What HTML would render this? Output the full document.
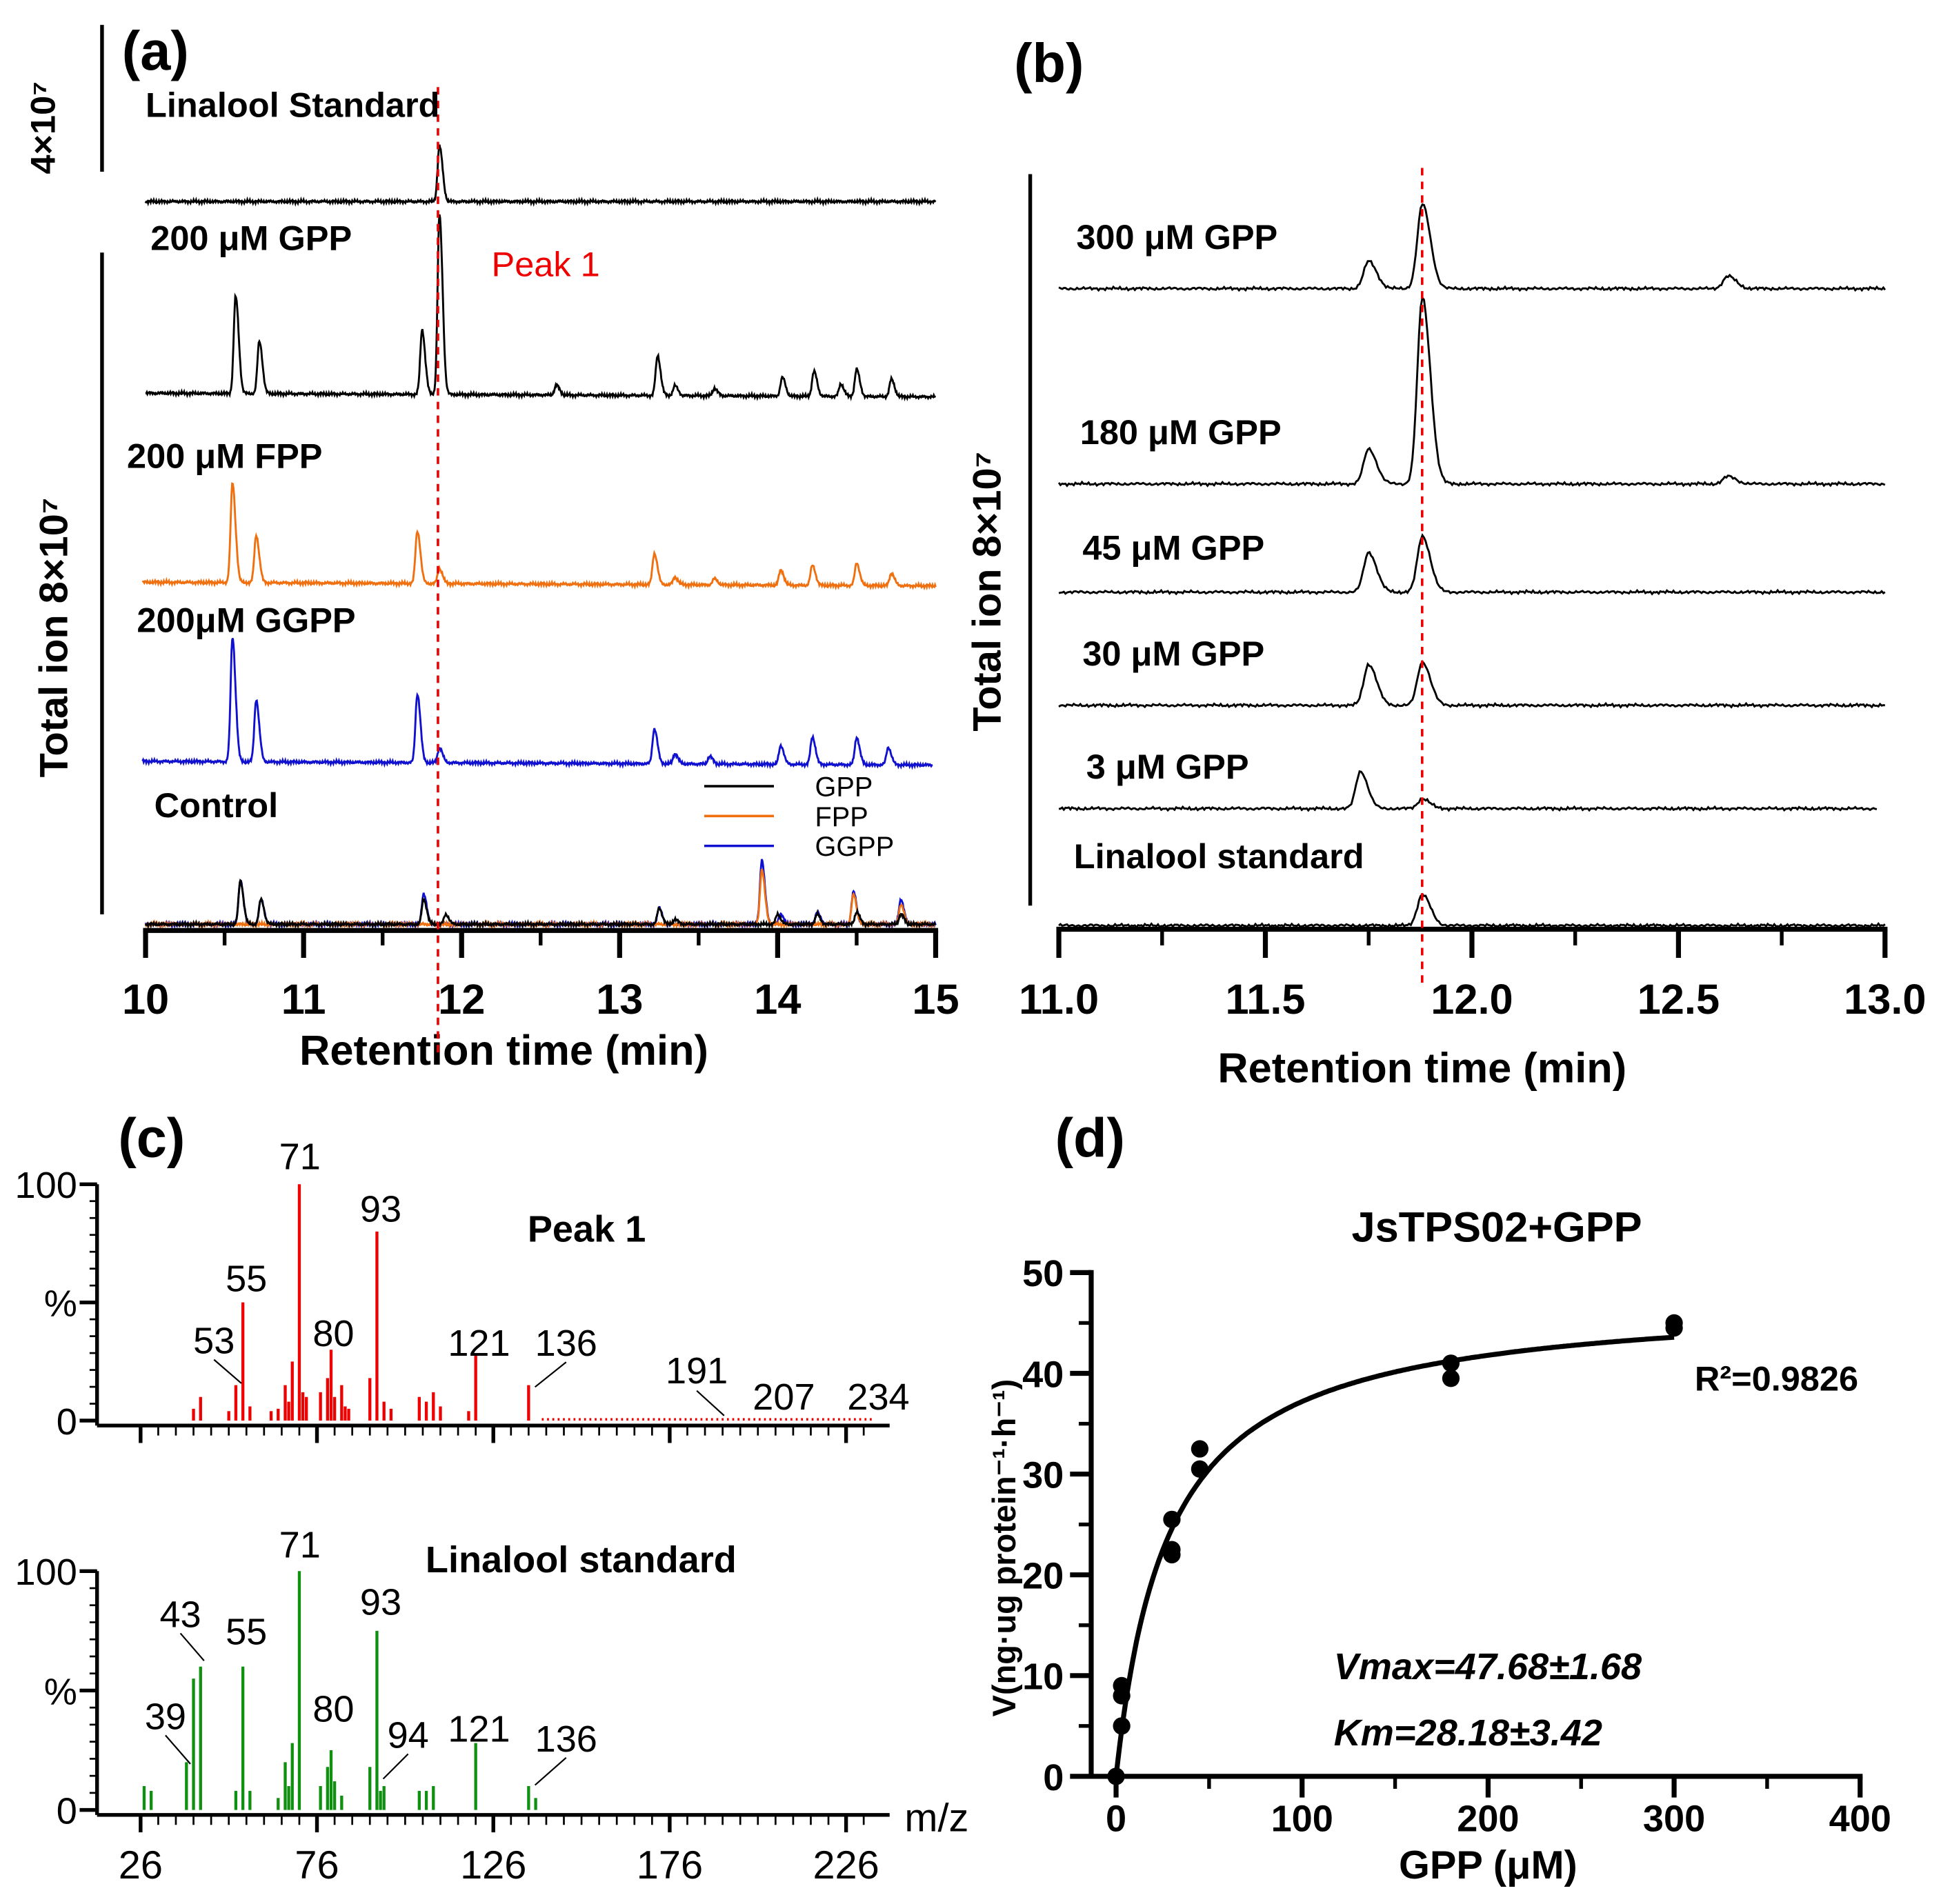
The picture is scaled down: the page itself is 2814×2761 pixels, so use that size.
<!DOCTYPE html>
<html><head><meta charset="utf-8"><style>
html,body{margin:0;padding:0;background:#fff}
svg{display:block}
text{font-family:"Liberation Sans",Arial,sans-serif}
.b{font-weight:bold}
</style></head><body>
<svg id="fig" width="2814" height="2761" viewBox="0 0 1560 1530.6" xmlns="http://www.w3.org/2000/svg">
<g id="gA"></g>
<g id="gB"></g>
<g id="gC"></g>
<g id="gD"></g>
</svg>
<script>
// ---------- Panel A data ----------
const aTicks=[10,11,12,13,14,15];
const aStdRt=[11.86], aStdH=[45];
const aGppRt=[10.57,10.72,11.75,11.86,12.6,13.24,13.35,13.6,14.03,14.23,14.4,14.5,14.72];
const aGppH=[78,42,52,145,8,32,8,6,15,20,10,22,14];
const aFppRt=[10.55,10.7,11.72,11.86,13.22,13.35,13.6,14.02,14.22,14.5,14.72];
const aFppH=[80,38,42,12,25,6,5,12,16,18,10];
const aGgppRt=[10.55,10.7,11.72,11.86,13.22,13.35,13.57,14.02,14.22,14.5,14.7];
const aGgppH=[100,50,55,12,28,8,6,15,22,22,14];
const aCtlRt=[10.6,10.73,11.76,11.9,13.25,13.35,14.0,14.25,14.5,14.78];
const aCtlH=[35,20,20,8,13,4,8,8,10,8];
const aCtlGgRt=[10.6,10.73,11.76,13.25,13.9,14.02,14.25,14.48,14.78];
const aCtlGgH=[35,20,24,13,52,8,10,26,20];
const aCtlFpRt=[13.9,14.48,14.78];
const aCtlFpH=[44,24,16];
// ---------- Panel B data ----------
const bTicks=[11.0,11.5,12.0,12.5,13.0];
const b300Rt=[11.75,11.88,12.62], b300H=[22,68,10];
const b180Rt=[11.75,11.88,12.62], b180H=[28,150,6];
const b45Rt=[11.75,11.88], b45H=[32,45];
const b30Rt=[11.75,11.88], b30H=[33,35];
const b3Rt=[11.73,11.88], b3H=[30,8];
const bStdRt=[11.88], bStdH=[25];
// ---------- Panel C data ----------
const cTicks=[26,76,126,176,226];
const cPeakMz=[41,43,51,53,55,57,63,65,67,68,69,71,72,73,77,79,80,81,83,84,85,91,93,95,97,105,107,109,111,119,121,136];
const cPeakI=[5,10,4,15,50,6,4,5,15,8,25,100,12,10,12,18,30,10,15,6,5,18,80,8,5,10,8,12,6,4,28,15];
const cStdMz=[27,29,39,41,43,53,55,57,65,67,68,69,71,77,79,80,81,83,91,93,94,95,105,107,109,121,136,138];
const cStdI=[10,8,20,55,60,8,60,8,5,20,10,28,100,10,18,25,12,6,18,75,8,10,8,8,10,28,10,5];
// ---------- Panel D data ----------
const dXTicks=[0,100,200,300,400];
const dYTicks=[0,10,20,30,40,50];
const dS=[0,3,3,3,30,30,30,45,45,180,180,300,300];
const dV=[0,5,8,9,22,22.5,25.5,30.5,32.5,39.5,41,44.5,45];
const dVmax=47.68, dKm=28.18;

const NS='http://www.w3.org/2000/svg';
function el(parent,tag,attrs,txt){const e=document.createElementNS(NS,tag);for(const k in attrs)e.setAttribute(k,attrs[k]);if(txt!==undefined)e.textContent=txt;parent.appendChild(e);return e;}
function noise(i,seed){return Math.sin(i*1.7+seed)*0.6+Math.sin(i*3.1+seed*2)*0.5+Math.sin(i*0.37+seed)*0.4;}
function trace(g,sx,x0,x1,base,rts,hs,w,color,seed,name,tilt){
  let d='';let i=0;
  for(let t=x0;t<=x1;t+=0.004){let y=base+noise(i,seed)+(tilt||0)*(t-x0)/(x1-x0);
    for(let k=0;k<rts.length;k++){const dt=t-rts[k];const ww=dt>0?w*1.6:w;y-=hs[k]*Math.exp(-dt*dt/(2*ww*ww));}
    d+=(i?'L':'M')+sx(t).toFixed(1)+','+y.toFixed(1);i++;}
  const p=el(g,'path',{d:d,fill:'none',stroke:color,'stroke-width':1.6});
  
  
  return p;
}
// ===== Panel A =====
const gA=document.getElementById('gA');
const ax=t=>117+(t-10)*127;
trace(gA,ax,10,15,162,aStdRt,aStdH,0.012,'#000',1,'trace-linalool-standard',0);
trace(gA,ax,10,15,316,aGppRt,aGppH,0.012,'#000',2,'trace-gpp',3);
trace(gA,ax,9.98,15,468,aFppRt,aFppH,0.012,'#f07010',3,'trace-fpp',3);
trace(gA,ax,9.98,14.98,612,aGgppRt,aGgppH,0.012,'#1010d0',4,'trace-ggpp',3);
trace(gA,ax,10,15,743,aCtlGgRt,aCtlGgH,0.012,'#1010d0',5,'trace-control-ggpp',0);
trace(gA,ax,10,15,743,aCtlFpRt,aCtlFpH,0.012,'#f07010',6,'trace-control-fpp',0);
trace(gA,ax,10,15,743,aCtlRt,aCtlH,0.012,'#000',7,'trace-control-gpp',0);
el(gA,'line',{x1:115,y1:748,x2:754,y2:748,stroke:'#000','stroke-width':4,});
aTicks.forEach(t=>{el(gA,'line',{x1:ax(t),y1:748,x2:ax(t),y2:770,stroke:'#000','stroke-width':4});
  const tx=el(gA,'text',{x:ax(t),y:815,'text-anchor':'middle','font-size':34,class:'b'},t);
  });
for(let t=10.5;t<15;t+=1)el(gA,'line',{x1:ax(t),y1:748,x2:ax(t),y2:760,stroke:'#000','stroke-width':3});
el(gA,'text',{x:405,y:856,'text-anchor':'middle','font-size':34,class:'b',},'Retention time (min)');
el(gA,'line',{x1:352,y1:70,x2:352,y2:850,stroke:'#e00','stroke-width':2,'stroke-dasharray':'6,5',});
el(gA,'line',{x1:82,y1:20,x2:82,y2:138,stroke:'#000','stroke-width':3,});
el(gA,'line',{x1:82,y1:203,x2:82,y2:735,stroke:'#000','stroke-width':3,});
el(gA,'text',{x:0,y:0,transform:'translate(44,140) rotate(-90)','font-size':28,class:'b',},'4×10⁷');
el(gA,'text',{x:0,y:0,transform:'translate(54,625) rotate(-90)','font-size':32,class:'b',},'Total ion 8×10⁷');
el(gA,'text',{x:98,y:56,'font-size':44,class:'b',},'(a)');
[['Linalool Standard',117,94],['200 μM GPP',121,201],['200 μM FPP',102,376],['200μM GGPP',110,508],['Control',124,657]].forEach(a=>el(gA,'text',{x:a[1],y:a[2],'font-size':28,class:'b',},a[0]));
el(gA,'text',{x:395,y:222,'font-size':28,fill:'#e00',},'Peak 1');
[['GPP','#000',640],['FPP','#f07010',664],['GGPP','#1010d0',688]].forEach(l=>{
  el(gA,'line',{x1:566,y1:l[2]-8,x2:622,y2:l[2]-8,stroke:l[1],'stroke-width':2,});
  el(gA,'text',{x:655,y:l[2],'font-size':22,},l[0]);});
// ===== Panel B =====
const gB=document.getElementById('gB');
const bx=t=>851+(t-11)*332;
trace(gB,bx,11,13,232,b300Rt,b300H,0.012,'#000',11,'trace-300uM',0);
trace(gB,bx,11,13,389,b180Rt,b180H,0.012,'#000',12,'trace-180uM',0);
trace(gB,bx,11,13,476,b45Rt,b45H,0.012,'#000',13,'trace-45uM',0);
trace(gB,bx,11,13,567,b30Rt,b30H,0.012,'#000',14,'trace-30uM',0);
trace(gB,bx,11,12.98,650,b3Rt,b3H,0.011,'#000',15,'trace-3uM',0);
trace(gB,bx,11,13,744,bStdRt,bStdH,0.012,'#000',16,'trace-linalool-std-b',0);
el(gB,'line',{x1:849,y1:747,x2:1517,y2:747,stroke:'#000','stroke-width':4,});
bTicks.forEach(t=>{el(gB,'line',{x1:bx(t),y1:747,x2:bx(t),y2:770,stroke:'#000','stroke-width':4});
  const tx=el(gB,'text',{x:bx(t),y:815,'text-anchor':'middle','font-size':34,class:'b'},t.toFixed(1));
  });
for(let t=11.25;t<13;t+=0.5)el(gB,'line',{x1:bx(t),y1:747,x2:bx(t),y2:760,stroke:'#000','stroke-width':3});
el(gB,'text',{x:1143,y:870,'text-anchor':'middle','font-size':34,class:'b',},'Retention time (min)');
el(gB,'line',{x1:1143,y1:135,x2:1143,y2:790,stroke:'#e00','stroke-width':2,'stroke-dasharray':'6,5',});
el(gB,'line',{x1:828,y1:140,x2:828,y2:728,stroke:'#000','stroke-width':3,});
el(gB,'text',{x:0,y:0,transform:'translate(804,588) rotate(-90)','font-size':32,class:'b',},'Total ion 8×10⁷');
el(gB,'text',{x:815,y:66,'font-size':44,class:'b',},'(b)');
[['300 μM GPP',865,200],['180 μM GPP',868,357],['45 μM GPP',870,450],['30 μM GPP',870,535],['3 μM GPP',873,626],['Linalool standard',863,698]].forEach(a=>el(gB,'text',{x:a[1],y:a[2],'font-size':28,class:'b',},a[0]));
// ===== Panel C =====
const gC=document.getElementById('gC');
const cx=m=>113+(m-26)*2.835;
function spectrum(y0,y100,mz,it,color,name){
  const sy=v=>y0-(y0-y100)*v/100;
  mz.forEach((m,i)=>{const l=el(gC,'line',{x1:cx(m),y1:y0,x2:cx(m),y2:sy(it[i]),stroke:color,'stroke-width':2.4});
    });
  el(gC,'line',{x1:78,y1:y0+4,x2:78,y2:y100,stroke:'#000','stroke-width':3});
  [[0,y0],[100,y100]].forEach(v=>{el(gC,'line',{x1:64,y1:v[1],x2:78,y2:v[1],stroke:'#000','stroke-width':3});
    el(gC,'text',{x:62,y:v[1]+11,'text-anchor':'end','font-size':30},v[0]);});
  el(gC,'line',{x1:64,y1:(y0+y100)/2,x2:78,y2:(y0+y100)/2,stroke:'#000','stroke-width':3});
  el(gC,'text',{x:62,y:(y0+y100)/2+11,'text-anchor':'end','font-size':30},'%');
  for(let k=0;k<15;k++)el(gC,'line',{x1:78,y1:y0-k*(y0-y100)/14,x2:72,y2:y0-k*(y0-y100)/14,stroke:'#000','stroke-width':1.5});
  el(gC,'line',{x1:78,y1:y0+4,x2:715,y2:y0+4,stroke:'#000','stroke-width':3});
  for(let m=26;m<=234;m+=5){const big=(m-26)%50===0;el(gC,'line',{x1:cx(m),y1:y0+4,x2:cx(m),y2:y0+(big?18:12),stroke:'#000','stroke-width':big?3:1.5});}
}
spectrum(1142,952,cPeakMz,cPeakI,'#e00','bar-peak1');
for(let m=140;m<=234;m+=1.5)el(gC,'line',{x1:cx(m),y1:1142,x2:cx(m),y2:1140,stroke:'#e00','stroke-width':1.5});
spectrum(1455,1263,cStdMz,cStdI,'#109010','bar-linalool');
cTicks.forEach(t=>{const tx=el(gC,'text',{x:cx(t),y:1510,'text-anchor':'middle','font-size':32},t);});
el(gC,'text',{x:727,y:1472,'font-size':32,},'m/z');
el(gC,'text',{x:95,y:930,'font-size':44,class:'b',},'(c)');
el(gC,'text',{x:424,y:998,'font-size':30,class:'b',},'Peak 1');
el(gC,'text',{x:342,y:1264,'font-size':30,class:'b',},'Linalool standard');
[['71',241,940],['93',306,982],['55',198,1038],['53',172,1088],['80',268,1082],['121',385,1090],['136',455,1090],['191',560,1112],['207',630,1133],['234',706,1133]].forEach(l=>el(gC,'text',{x:l[1],y:l[2],'text-anchor':'middle','font-size':30},l[0]));
[['71',241,1252],['93',306,1298],['55',198,1322],['43',145,1308],['39',133,1390],['80',268,1384],['94',328,1405],['121',385,1400],['136',455,1408]].forEach(l=>el(gC,'text',{x:l[1],y:l[2],'text-anchor':'middle','font-size':30},l[0]));
[[172,1093,194,1112],[560,1118,582,1138],[455,1095,430,1115],[133,1395,153,1418],[145,1313,164,1335],[328,1410,308,1430],[455,1413,430,1435]].forEach(l=>el(gC,'line',{x1:l[0],y1:l[1],x2:l[2],y2:l[3],stroke:'#000','stroke-width':1.2}));
// ===== Panel D =====
const gD=document.getElementById('gD');
const dx=s=>897+s*1.495, dy=v=>1428-v*8.1;
el(gD,'line',{x1:877,y1:1428,x2:1497,y2:1428,stroke:'#000','stroke-width':4,});
el(gD,'line',{x1:877,y1:1430,x2:877,y2:1021,stroke:'#000','stroke-width':4,});
dXTicks.forEach(t=>{el(gD,'line',{x1:dx(t),y1:1428,x2:dx(t),y2:1445,stroke:'#000','stroke-width':4});
  const tx=el(gD,'text',{x:dx(t),y:1472,'text-anchor':'middle','font-size':30,class:'b'},t);});
for(let t=50;t<400;t+=100)el(gD,'line',{x1:dx(t),y1:1428,x2:dx(t),y2:1438,stroke:'#000','stroke-width':3});
dYTicks.forEach(t=>{el(gD,'line',{x1:860,y1:dy(t),x2:877,y2:dy(t),stroke:'#000','stroke-width':4});
  const tx=el(gD,'text',{x:855,y:dy(t)+11,'text-anchor':'end','font-size':30,class:'b'},t);});
for(let t=5;t<50;t+=10)el(gD,'line',{x1:867,y1:dy(t),x2:877,y2:dy(t),stroke:'#000','stroke-width':3});
let cd='';for(let s=0;s<=300;s+=1){cd+=(s?'L':'M')+dx(s).toFixed(1)+','+dy(dVmax*s/(dKm+s)).toFixed(1);}
el(gD,'path',{d:cd,fill:'none',stroke:'#000','stroke-width':4,});
dS.forEach((s,i)=>{const c=el(gD,'circle',{cx:dx(s),cy:dy(dV[i]),r:7,fill:'#000'});});
el(gD,'text',{x:1196,y:1510,'text-anchor':'middle','font-size':32,class:'b',},'GPP (μM)');
el(gD,'text',{x:0,y:0,transform:'translate(816,1380) rotate(-90)','font-size':26,class:'b',},'V(ng·ug protein⁻¹·h⁻¹)');
el(gD,'text',{x:848,y:930,'font-size':44,class:'b',},'(d)');
el(gD,'text',{x:1203,y:998,'text-anchor':'middle','font-size':34,class:'b',},'JsTPS02+GPP');
el(gD,'text',{x:1362,y:1118,'font-size':28,class:'b',},'R²=0.9826');
el(gD,'text',{x:1072,y:1350,'font-size':30,class:'b','font-style':'italic',},'Vmax=47.68±1.68');
el(gD,'text',{x:1072,y:1403,'font-size':30,class:'b','font-style':'italic',},'Km=28.18±3.42');
</script>
</body></html>
